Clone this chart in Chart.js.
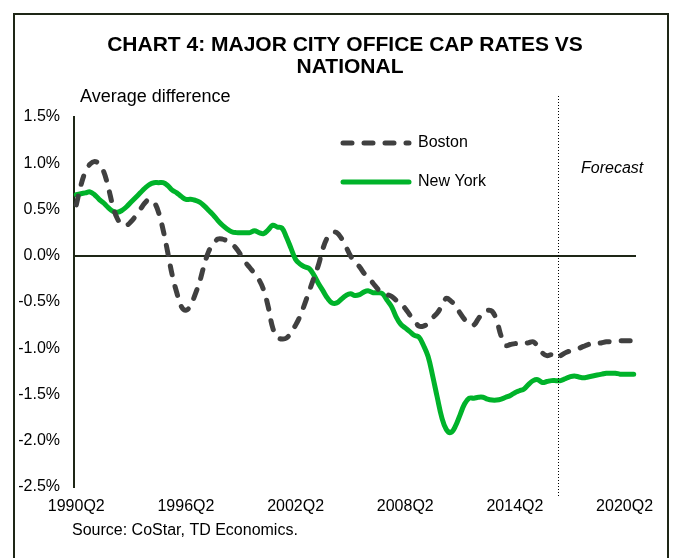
<!DOCTYPE html>
<html>
<head>
<meta charset="utf-8">
<script src="https://cdn.jsdelivr.net/npm/chart.js@4/dist/chart.umd.min.js"></script>
<style>
  body { margin: 0; background: #fff; }
  #wrap { width: 681px; height: 558px; }
</style>
</head>
<body>
<div id="wrap"><canvas id="chart" width="681" height="558"></canvas></div>
<script>
// quarters 1990Q2 .. 2020Q4
const quarters = []
for (let y = 1990; y <= 2020; y++) {
    for (let q = 1; q <= 4; q++) {
        if (y === 1990 && q === 1) continue
        quarters.push(`${y}Q${q}`)
    }
}
const tickLabels = ['1990Q2', '1996Q2', '2002Q2', '2008Q2', '2014Q2', '2020Q2']
const forecastStart = '2016Q4'
const yTicks = [-2.5, -2.0, -1.5, -1.0, -0.5, 0.0, 0.5, 1.0, 1.5]

// average difference vs national cap rate, %
const boston = [
    0.55, 0.76, 0.91, 0.99, 1.02, 0.99, 0.91, 0.74, 0.54, 0.40,
    0.34, 0.33, 0.37, 0.43, 0.50, 0.57, 0.61, 0.58, 0.47, 0.28,
    0.04, -0.21, -0.40, -0.55, -0.59, -0.54, -0.42, -0.28, -0.10, 0.05,
    0.13, 0.18, 0.18, 0.16, 0.13, 0.08, 0.01, -0.07, -0.13, -0.19,
    -0.26, -0.37, -0.55, -0.78, -0.88, -0.90, -0.89, -0.83, -0.75, -0.65,
    -0.52, -0.38, -0.24, -0.10, 0.08, 0.20, 0.25, 0.25, 0.19, 0.10,
    0.00, -0.07, -0.12, -0.19, -0.24, -0.30, -0.36, -0.40, -0.42, -0.44,
    -0.48, -0.51, -0.57, -0.64, -0.70, -0.76, -0.76, -0.73, -0.67, -0.62,
    -0.54, -0.46, -0.49, -0.54, -0.62, -0.69, -0.74, -0.75, -0.68, -0.62,
    -0.59, -0.60, -0.70, -0.87, -0.97, -0.96, -0.95, -0.95, -0.95, -0.94,
    -0.93, -0.98, -1.05, -1.08, -1.07, -1.11, -1.08, -1.05, -1.03, -1.01,
    -1.00, -0.98, -0.96, -0.95, -0.95, -0.94, -0.93, -0.93, -0.92, -0.92,
    -0.92, -0.92, -0.92
]
const newYork = [
    0.66, 0.67, 0.68, 0.69, 0.66, 0.61, 0.57, 0.52, 0.48, 0.47,
    0.49, 0.53, 0.58, 0.63, 0.68, 0.73, 0.77, 0.79, 0.79, 0.79,
    0.76, 0.71, 0.68, 0.64, 0.61, 0.61, 0.60, 0.58, 0.54, 0.49,
    0.44, 0.38, 0.33, 0.29, 0.26, 0.25, 0.25, 0.25, 0.25, 0.27,
    0.25, 0.24, 0.28, 0.33, 0.31, 0.30, 0.20, 0.08, -0.04, -0.09,
    -0.12, -0.14, -0.21, -0.30, -0.38, -0.46, -0.51, -0.51, -0.47, -0.43,
    -0.41, -0.43, -0.42, -0.39, -0.38, -0.40, -0.40, -0.41, -0.48, -0.55,
    -0.66, -0.74, -0.78, -0.82, -0.86, -0.88, -0.97, -1.09, -1.30, -1.53,
    -1.75, -1.88, -1.91, -1.84, -1.72, -1.60, -1.54, -1.54, -1.53, -1.53,
    -1.55, -1.56, -1.56, -1.55, -1.53, -1.51, -1.48, -1.46, -1.44, -1.39,
    -1.35, -1.34, -1.37, -1.36, -1.35, -1.35, -1.35, -1.33, -1.31, -1.30,
    -1.31, -1.32, -1.31, -1.30, -1.29, -1.28, -1.27, -1.27, -1.27, -1.28,
    -1.28, -1.28, -1.28
]

const FONT = '"Liberation Sans", Arial, sans-serif'
const DARK = '#1e2616'

const decorations = {
    id: 'decorations',
    beforeDraw(chart) {
        const ctx = chart.ctx
        ctx.save()
        ctx.fillStyle = '#fff'
        ctx.fillRect(0, 0, chart.width, chart.height)
        ctx.strokeStyle = DARK
        ctx.lineWidth = 2
        ctx.strokeRect(14, 14, 654, 600)
        ctx.fillStyle = '#000'
        ctx.textAlign = 'center'
        ctx.textBaseline = 'middle'
        ctx.font = `bold 21px ${FONT}`
        ctx.fillText('CHART 4: MAJOR CITY OFFICE CAP RATES VS', 345, 45)
        ctx.fillText('NATIONAL', 350, 67)
        ctx.textAlign = 'left'
        ctx.font = `18px ${FONT}`
        ctx.fillText('Average difference', 80, 97)
        ctx.font = `16px ${FONT}`
        ctx.fillText('Source: CoStar, TD Economics.', 72, 531)
        ctx.restore()
    },
    afterDatasetsDraw(chart) {
        const ctx = chart.ctx
        const x = chart.scales.x
        const i = quarters.indexOf(forecastStart)
        const fx = Math.round((x.getPixelForValue(i - 1) + x.getPixelForValue(i)) / 2) + 0.5
        ctx.save()
        ctx.strokeStyle = '#000'
        ctx.lineWidth = 1
        ctx.setLineDash([1, 2])
        ctx.beginPath()
        ctx.moveTo(fx, 96)
        ctx.lineTo(fx, 497)
        ctx.stroke()
        ctx.setLineDash([])
        ctx.fillStyle = '#000'
        ctx.font = `italic 16px ${FONT}`
        ctx.textBaseline = 'middle'
        ctx.fillText('Forecast', 581, 169)

        // legend
        const rows = [[chart.data.datasets[0], 143], [chart.data.datasets[1], 182]]
        rows.forEach(([ds, ly]) => {
            ctx.strokeStyle = ds.borderColor
            ctx.lineWidth = ds.borderWidth
            ctx.lineCap = ds.borderCapStyle || 'butt'
            ctx.setLineDash(ds.borderDash || [])
            ctx.beginPath()
            ctx.moveTo(343, ly)
            ctx.lineTo(409, ly)
            ctx.stroke()
            ctx.setLineDash([])
            ctx.font = `16px ${FONT}`
            ctx.fillText(ds.label, 418, ly)
        })
        ctx.restore()
    }
}

new Chart(document.getElementById('chart'), {
    type: 'line',
    data: {
        labels: quarters,
        datasets: [
            {
                label: 'Boston',
                data: boston,
                borderColor: '#404040',
                borderWidth: 5,
                borderDash: [9, 12],
                borderCapStyle: 'round',
                pointRadius: 0,
                tension: 0.4
            },
            {
                label: 'New York',
                data: newYork,
                borderColor: '#00b32a',
                borderWidth: 5,
                borderCapStyle: 'round',
                borderJoinStyle: 'round',
                pointRadius: 0,
                tension: 0.4
            }
        ]
    },
    options: {
        responsive: false,
        animation: false,
        devicePixelRatio: 1,
        layout: { padding: { left: 0, top: 117, right: 45, bottom: 0 } },
        plugins: { legend: { display: false }, tooltip: { enabled: false } },
        scales: {
            x: {
                offset: true,
                grid: { display: false, drawTicks: false },
                border: { display: false },
                afterFit: (s) => { s.height = 71 },
                ticks: {
                    autoSkip: false,
                    maxRotation: 0,
                    padding: 10,
                    color: '#000',
                    font: { family: FONT, size: 16 },
                    callback: function (v, idx) {
                        const l = this.getLabelForValue(v)
                        return tickLabels.includes(l) ? l : ''
                    }
                }
            },
            y: {
                min: -2.5,
                max: 1.5,
                afterFit: (s) => { s.width = 74 },
                afterBuildTicks: (s) => { s.ticks = yTicks.map(v => ({ value: v })) },
                border: { display: true, color: DARK, width: 2 },
                grid: {
                    drawTicks: false,
                    color: (c) => c.tick && c.tick.value === 0 ? DARK : 'rgba(0,0,0,0)',
                    lineWidth: 2
                },
                ticks: {
                    padding: 14,
                    color: '#000',
                    font: { family: FONT, size: 16 },
                    callback: (v) => `${v.toFixed(1)}%`
                }
            }
        }
    },
    plugins: [decorations]
})
</script>
</body>
</html>
